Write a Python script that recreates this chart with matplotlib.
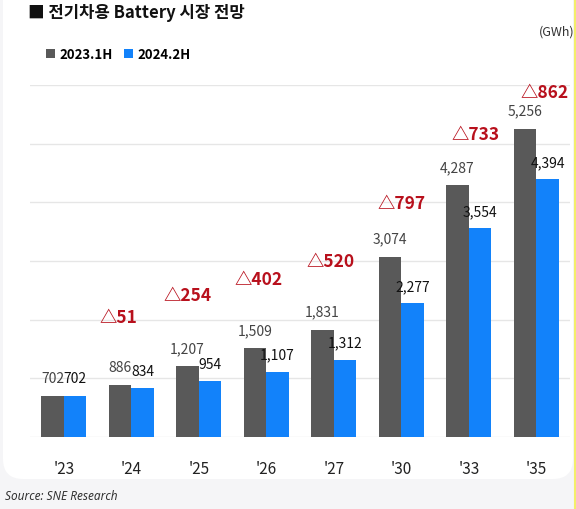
import matplotlib.pyplot as plt
import numpy as np
from matplotlib.patches import FancyBboxPatch
from matplotlib.lines import Line2D

plt.rcParams['font.family'] = ['Noto Sans CJK KR', 'DejaVu Sans']

# dati
anni = ["'23", "'24", "'25", "'26", "'27", "'30", "'33", "'35"]
serie_2023 = [702, 886, 1207, 1509, 1831, 3074, 4287, 5256]
serie_2024 = [702, 834, 954, 1107, 1312, 2277, 3554, 4394]
delta = [None, 51, 254, 402, 520, 797, 733, 862]
nomi_serie = ['2023.1H', '2024.2H']

# posizione (px) dei delta rispetto alla barra grigia
delta_dy = [0, 68, 71, 69, 69, 54, 51, 37]
delta_dx = [0, -13, -11, -8, -3, 0, 7, 8]

grigio = '#595959'
blu = '#1282fa'
rosso = '#b8101c'

W, H = 576, 510
fig = plt.figure(figsize=(W / 100, H / 100), dpi=100)
fig.patch.set_facecolor('#f5f5f7')

# pannello bianco arrotondato
y0 = 1 - 480 / H
pannello = FancyBboxPatch((3 / W, y0), 570 / W, 1.2 - y0,
                          boxstyle='round,pad=0,rounding_size=0.035',
                          mutation_aspect=W / H,
                          transform=fig.transFigure, facecolor='white',
                          edgecolor='none', zorder=0)
fig.add_artist(pannello)
fig.add_artist(Line2D([575 / W, 575 / W], [0, 1], transform=fig.transFigure,
                      color='#f3ee6a', lw=1.5))

ax = fig.add_axes([30 / W, 1 - 438 / H, 540 / W, (438 - 86) / H])
ax.set_facecolor('none')

x = np.arange(len(anni))
w = 0.335
b1 = ax.bar(x - w / 2, serie_2023, w, color=grigio, label=nomi_serie[0], zorder=3)
b2 = ax.bar(x + w / 2, serie_2024, w, color=blu, label=nomi_serie[1], zorder=3)

ax.set_xlim(-0.5, len(anni) - 0.5)
ax.set_ylim(0, 6000)
ax.set_yticks(np.arange(0, 6001, 1000))
ax.yaxis.grid(True, color='#e6e6e6', lw=1)
ax.set_axisbelow(True)
ax.tick_params(axis='y', left=False, labelleft=False)
ax.tick_params(axis='x', bottom=False, pad=13, labelsize=11, labelcolor='#222222')
ax.set_xticks(x)
ax.set_xticklabels(anni)
for s in ax.spines.values():
    s.set_visible(False)

for i in range(len(anni)):
    ax.annotate(f'{serie_2023[i]:,}', (x[i] - w / 2, serie_2023[i]),
                xytext=(0, 13), textcoords='offset points', ha='center', va='center',
                fontsize=10, color='#444444', zorder=5)
    ax.annotate(f'{serie_2024[i]:,}', (x[i] + w / 2, serie_2024[i]),
                xytext=(0, 12.5), textcoords='offset points', ha='center', va='center',
                fontsize=10, color='#111111', zorder=5)
    if delta[i] is not None:
        ax.annotate(f'△{delta[i]}', (x[i], serie_2023[i]),
                    xytext=(delta_dx[i] * 0.72, delta_dy[i] * 0.72), textcoords='offset points',
                    ha='center', va='center', fontsize=12.5, fontweight='bold',
                    color=rosso, zorder=5, annotation_clip=False)

fig.text(28 / W, 1 - 13 / H, '■ 전기차용 Battery 시장 전망', fontsize=12,
         fontweight='bold', color='#111111', va='center', ha='left')
fig.text(574 / W, 1 - 32 / H, '(GWh)', fontsize=9, color='#333333',
         va='center', ha='right')

fig.legend(handles=[b1, b2], loc='center left', bbox_to_anchor=(34 / W, 1 - 55 / H),
           ncol=2, frameon=False, handlelength=0.7, handleheight=0.7,
           handletextpad=0.35, columnspacing=0.8,
           prop={'family': ['Noto Sans CJK KR', 'DejaVu Sans'], 'weight': 'bold', 'size': 9.5})

fig.text(5 / W, 1 - 497 / H, 'Source: SNE Research', fontsize=8.5, style='italic',
         family=['Noto Sans', 'DejaVu Sans'], color='#333333', va='center', ha='left')

fig.savefig('out.png', dpi=100, facecolor=fig.get_facecolor())
